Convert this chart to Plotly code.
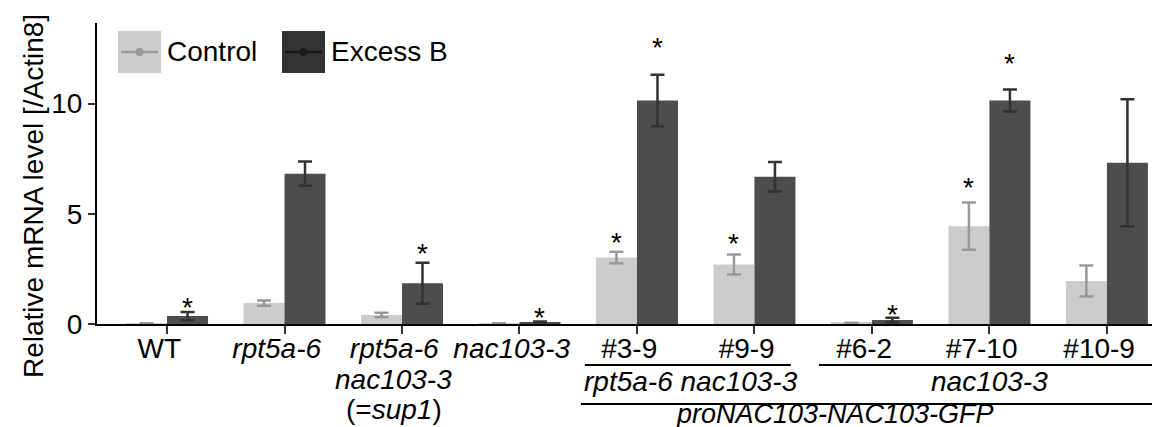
import plotly.graph_objects as go

# ---------------- data ----------------
tick_labels = ["WT", "<i>rpt5a-6</i>", "<i>rpt5a-6</i>", "<i>nac103-3</i>",
               "#3-9", "#9-9", "#6-2", "#7-10", "#10-9"]
control = [0.02, 0.95, 0.41, 0.02, 3.02, 2.70, 0.05, 4.44, 1.95]
control_err = [0.01, 0.12, 0.10, 0.01, 0.26, 0.45, 0.01, 1.07, 0.70]
excess = [0.36, 6.82, 1.85, 0.08, 10.14, 6.68, 0.18, 10.14, 7.32]
excess_err = [0.19, 0.55, 0.93, 0.03, 1.17, 0.67, 0.10, 0.50, 2.88]
# asterisk heights (None = no asterisk)
star_control = [None, None, None, None, 3.85, 3.78, None, 6.33, None]
star_excess = [0.88, None, 3.33, 0.41, 12.68, None, 0.59, 11.97, None]

y_ticks = [0, 5, 10]
series_names = ["Control", "Excess B"]

# ---------------- layout constants ----------------
FONT = "Liberation Sans, Arial, Helvetica, sans-serif"
W, H = 1160, 427
ML, MR, MT, MB = 89, 0, 15, 111
PW, PH = W - ML - MR, H - MT - MB
BAR_HALF = 0.1745

def px(xp):
    return (xp - ML) / PW

def py(yp):
    return (H - MB - yp) / PH

x = list(range(len(tick_labels)))

fig = go.Figure()
fig.add_trace(go.Bar(
    x=x, y=control, name=series_names[0], marker_color="#cccccc",
    marker_line_width=0,
    error_y=dict(type="data", array=control_err, color="#999999",
                 thickness=2.5, width=7),
    showlegend=False))
fig.add_trace(go.Bar(
    x=x, y=excess, name=series_names[1], marker_color="#4d4d4d",
    marker_line_width=0,
    error_y=dict(type="data", array=excess_err, color="#333333",
                 thickness=2.5, width=7),
    showlegend=False))

annotations = []
star_font = dict(family=FONT, size=28, color="black")
# asterisks
for i, v in enumerate(star_control):
    if v is not None:
        annotations.append(dict(x=i - BAR_HALF, y=v, xref="x", yref="y", text="*",
                                showarrow=False, yshift=-3, font=star_font))
for i, v in enumerate(star_excess):
    if v is not None:
        annotations.append(dict(x=i + BAR_HALF, y=v, xref="x", yref="y", text="*",
                                showarrow=False, yshift=-3, font=star_font))

lab_font = dict(family=FONT, size=28, color="black")
# extra lines for the (=sup1) category
annotations.append(dict(x=2, y=py(371), xref="x", yref="paper", text="<i>nac103-3</i>",
                        showarrow=False, xshift=-8, yanchor="middle", font=lab_font))
annotations.append(dict(x=2, y=py(402), xref="x", yref="paper", text="(=<i>sup1</i>)",
                        showarrow=False, xshift=-8, yanchor="middle", font=lab_font))
# group labels
annotations.append(dict(x=4.46, y=py(373), xref="x", yref="paper",
                        text="<i>rpt5a-6 nac103-3</i>", showarrow=False,
                        yanchor="middle", font=lab_font))
annotations.append(dict(x=7.0, y=py(373), xref="x", yref="paper",
                        text="<i>nac103-3</i>", showarrow=False,
                        yanchor="middle", font=lab_font))
annotations.append(dict(x=5.685, y=py(406), xref="x", yref="paper",
                        text="<i>proNAC103-NAC103-GFP</i>", showarrow=False,
                        yanchor="middle", borderpad=0,
                        font=dict(family=FONT, size=27, color="black")))
# y-axis title
annotations.append(dict(x=px(25), y=py(188), xref="paper", yref="paper",
                        text="Relative mRNA level [/Actin8]", textangle=-90,
                        showarrow=False, xanchor="center", yanchor="middle",
                        font=lab_font))
# legend texts
annotations.append(dict(x=px(157), y=py(44), xref="paper", yref="paper",
                        text=series_names[0], showarrow=False, xanchor="left",
                        yanchor="middle", font=lab_font))
annotations.append(dict(x=px(321), y=py(44), xref="paper", yref="paper",
                        text=series_names[1], showarrow=False, xanchor="left",
                        yanchor="middle", font=lab_font))

shapes = []
# bracket lines under the labels
for (x0, x1, yp) in [(3.557, 5.31, 357), (5.549, 8.39, 357), (3.523, 8.39, 396)]:
    shapes.append(dict(type="line", xref="x", yref="paper", x0=x0, x1=x1,
                       y0=py(yp), y1=py(yp), line=dict(color="black", width=2)))
# legend keys
for (x0, fill, lc) in [(110, "#cccccc", "#999999"), (274, "#333333", "#1a1a1a")]:
    shapes.append(dict(type="rect", xref="paper", yref="paper",
                       x0=px(x0), x1=px(x0 + 43), y0=py(23), y1=py(65),
                       fillcolor=fill, line=dict(width=0)))
    shapes.append(dict(type="line", xref="paper", yref="paper",
                       x0=px(x0 + 3), x1=px(x0 + 40), y0=py(44), y1=py(44),
                       line=dict(color=lc, width=2.5)))
    cx = x0 + 21.5
    shapes.append(dict(type="circle", xref="paper", yref="paper",
                       x0=px(cx - 4), x1=px(cx + 4), y0=py(48), y1=py(40),
                       fillcolor=lc, line=dict(width=0)))

fig.update_layout(
    width=W, height=H,
    margin=dict(l=ML, r=MR, t=MT, b=MB, pad=0),
    paper_bgcolor="white", plot_bgcolor="white",
    barmode="group", bargap=0.302, bargroupgap=0,
    font=dict(family=FONT, size=28, color="black"),
    annotations=annotations, shapes=shapes,
    xaxis=dict(range=[-0.596, 8.52], tickmode="array", tickvals=x,
               ticktext=[t + "\u00a0\u00a0" for t in tick_labels],
               tickangle=0, ticklabelstandoff=-10,
               showline=True, linecolor="black", linewidth=2,
               ticks="outside", ticklen=8, tickwidth=2, tickcolor="#333333",
               showgrid=False, zeroline=False,
               tickfont=dict(family=FONT, size=28, color="black")),
    yaxis=dict(range=[0, 13.66], tickmode="array", tickvals=y_ticks,
               ticktext=[str(v) for v in y_ticks],
               showline=True, linecolor="black", linewidth=2,
               ticks="outside", ticklen=7, tickwidth=2, tickcolor="#333333",
               showgrid=False, zeroline=False,
               tickfont=dict(family=FONT, size=28, color="black")),
)

fig.write_html("out.html")
